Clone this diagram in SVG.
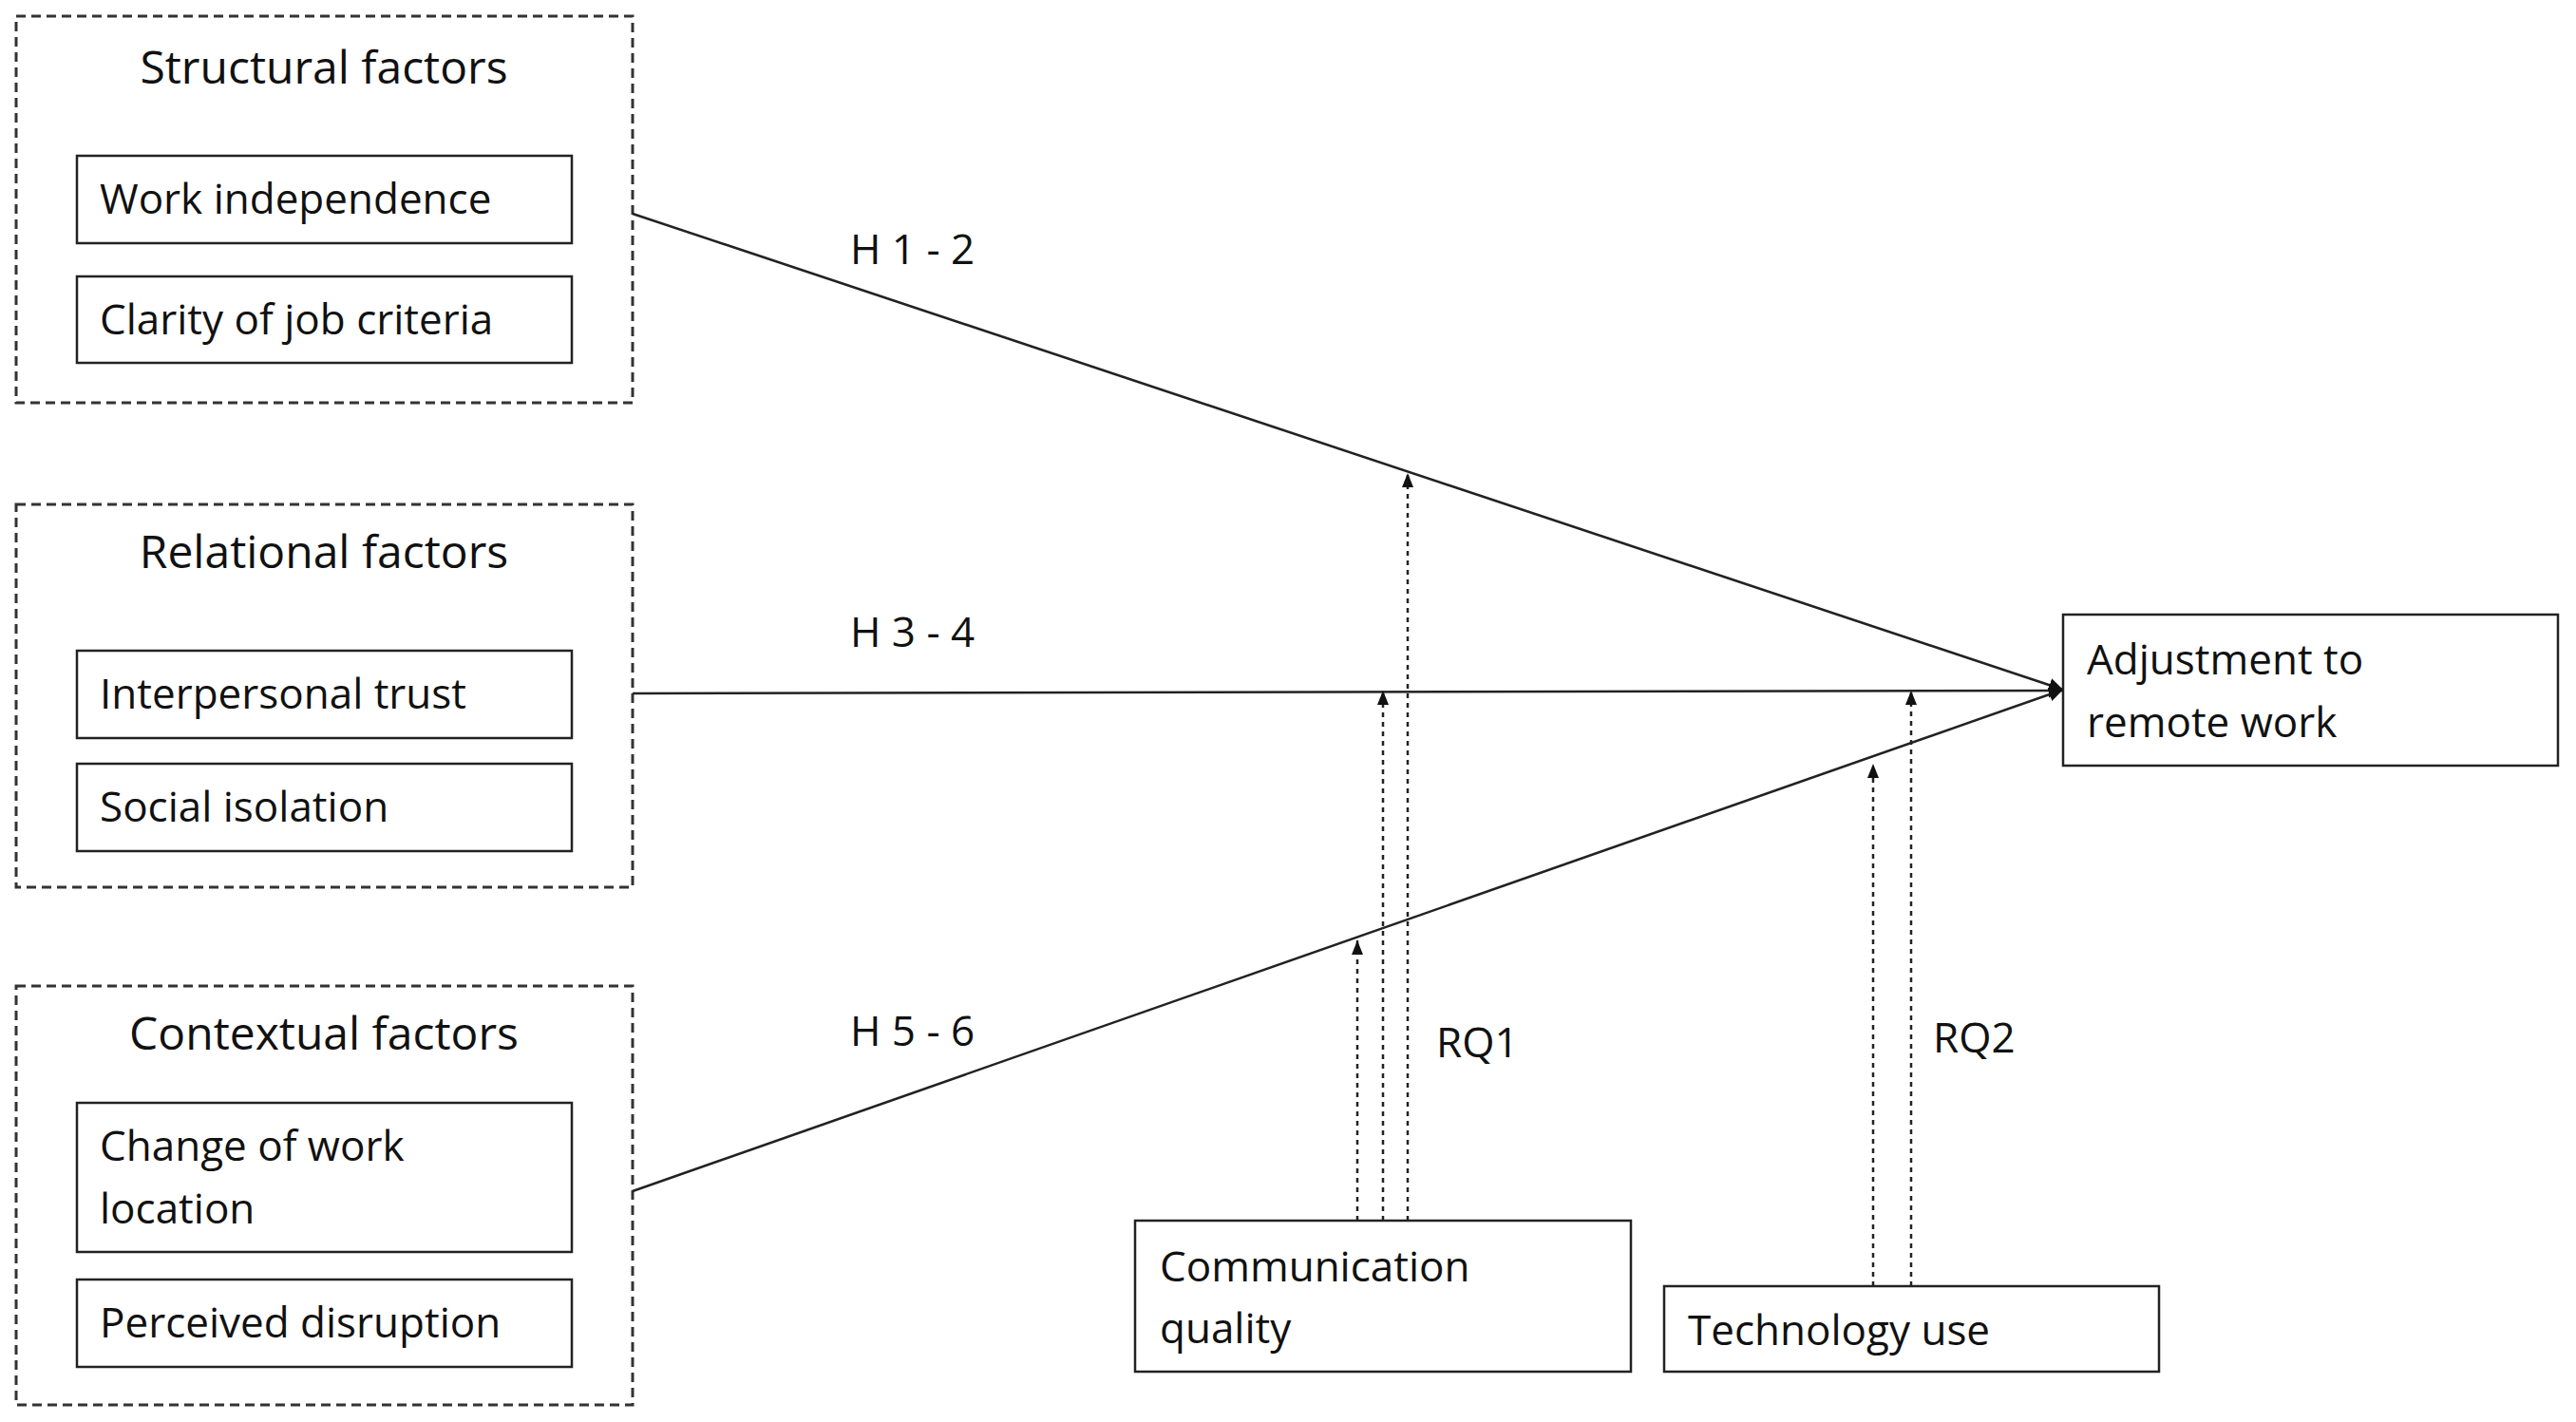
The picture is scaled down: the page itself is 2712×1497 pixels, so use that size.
<svg xmlns="http://www.w3.org/2000/svg" width="2712" height="1497" viewBox="0 0 2712 1497">
<style>
.g{fill:none;stroke:#333;stroke-width:3;stroke-dasharray:10 6}
.b{fill:#fff;stroke:#222;stroke-width:2.5}
text{font-family:"Open Sans","Liberation Sans",sans-serif;font-size:44px;fill:#111}
.t{font-size:48px;text-anchor:middle}
.l{stroke:#222;stroke-width:2.5;fill:none}
.d{stroke:#222;stroke-width:2.5;fill:none;stroke-dasharray:5 5}
</style>
<defs>
<marker id="a" viewBox="0 0 10 10" refX="10" refY="5" markerWidth="6" markerHeight="6" orient="auto"><path d="M0,0L10,5L0,10z" fill="#111"/></marker>
<marker id="s" viewBox="0 0 10 10" refX="10" refY="5" markerWidth="6" markerHeight="6" orient="auto"><path d="M0,1L10,5L0,9z" fill="#111"/></marker>
</defs>
<g id="structural"><rect class="g" x="17" y="17" width="649" height="407"/><text class="t" x="341" y="88">Structural factors</text></g>
<g id="work-independence"><rect class="b" x="81" y="164" width="521" height="92"/><text x="105" y="225">Work independence</text></g>
<g id="clarity"><rect class="b" x="81" y="291" width="521" height="91"/><text x="105" y="352">Clarity of job criteria</text></g>
<g id="relational"><rect class="g" x="17" y="531" width="649" height="403"/><text class="t" x="341" y="598">Relational factors</text></g>
<g id="trust"><rect class="b" x="81" y="685" width="521" height="92"/><text x="105" y="746">Interpersonal trust</text></g>
<g id="isolation"><rect class="b" x="81" y="804" width="521" height="92"/><text x="105" y="865">Social isolation</text></g>
<g id="contextual"><rect class="g" x="17" y="1038" width="649" height="441"/><text class="t" x="341" y="1105">Contextual factors</text></g>
<g id="location"><rect class="b" x="81" y="1161" width="521" height="157"/><text x="105" y="1222">Change of work</text><text x="105" y="1288">location</text></g>
<g id="disruption"><rect class="b" x="81" y="1347" width="521" height="92"/><text x="105" y="1408">Perceived disruption</text></g>
<g id="adjustment"><rect class="b" x="2172" y="647" width="521" height="159"/><text x="2197" y="710">Adjustment to</text><text x="2197" y="776">remote work</text></g>
<g id="communication"><rect class="b" x="1195" y="1285" width="522" height="159"/><text x="1221" y="1349">Communication</text><text x="1221" y="1414">quality</text></g>
<g id="technology"><rect class="b" x="1752" y="1354" width="521" height="90"/><text x="1777" y="1416">Technology use</text></g>
<g id="connectors">
<line class="l" x1="666" y1="225" x2="2172" y2="726" marker-end="url(#a)"/>
<line class="l" x1="666" y1="730" x2="2172" y2="727" marker-end="url(#a)"/>
<line class="l" x1="666" y1="1254" x2="2172" y2="726" marker-end="url(#a)"/>
<line class="d" x1="1482" y1="1285" x2="1482" y2="498" marker-end="url(#s)"/>
<line class="d" x1="1456" y1="1285" x2="1456" y2="727" marker-end="url(#s)"/>
<line class="d" x1="1429" y1="1285" x2="1429" y2="990" marker-end="url(#s)"/>
<line class="d" x1="2012" y1="1354" x2="2012" y2="727" marker-end="url(#s)"/>
<line class="d" x1="1972" y1="1354" x2="1972" y2="804" marker-end="url(#s)"/>
<text x="895" y="278">H 1 - 2</text>
<text x="895" y="681">H 3 - 4</text>
<text x="895" y="1101">H 5 - 6</text>
<text x="1512" y="1113">RQ1</text>
<text x="2035" y="1108">RQ2</text>
</g>
</svg>
